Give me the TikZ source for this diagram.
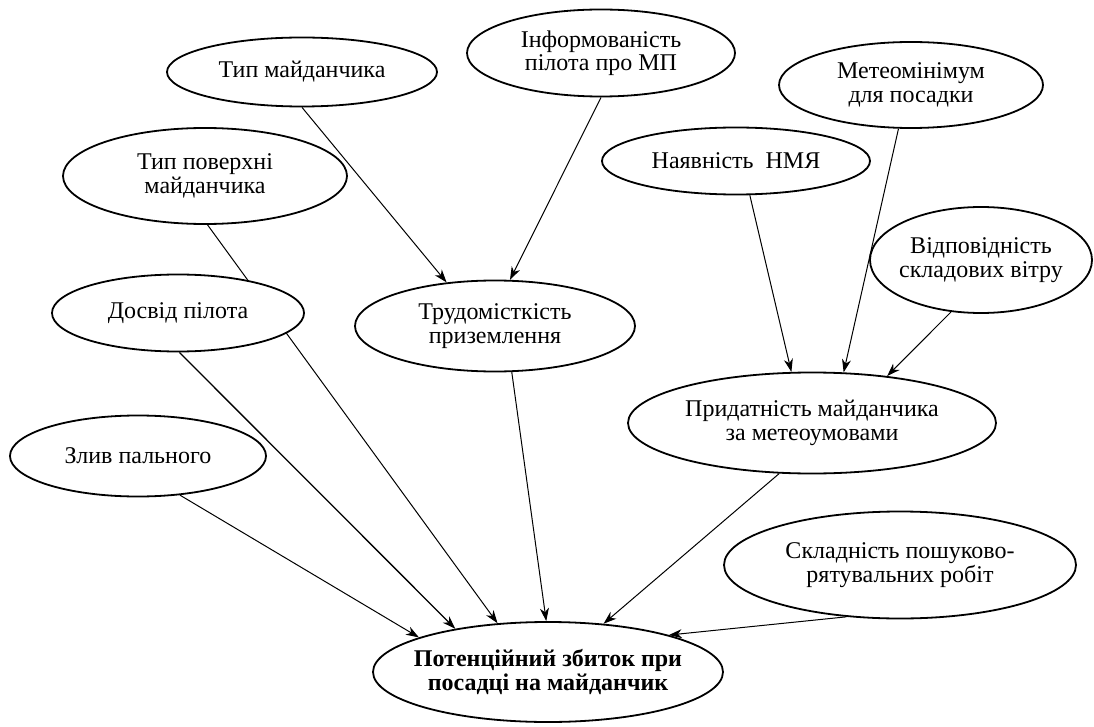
\documentclass[tikz,border=0pt]{standalone}
\usepackage{fontspec}
\setmainfont{Liberation Serif}
\usetikzlibrary{shapes.geometric,arrows.meta}
\pgfdeclarelayer{bg}
\pgfsetlayers{bg,main}
\begin{document}
\begin{tikzpicture}[x=1pt,y=-1pt,
  ell/.style={ellipse,draw,line width=1.8pt,fill=white,inner ysep=0pt,inner xsep=-8pt,align=center,
    font=\fontsize{24}{23.5}\selectfont},
  conn/.style={line width=1pt,-{Stealth[length=13pt,width=9pt,inset=4pt]}}]
\useasboundingbox (0,0) rectangle (1094,727);

\node[ell,minimum width=270pt,minimum height=69pt] (A) at (302,72) {Тип майданчика};
\node[ell,minimum width=268pt,minimum height=87pt] (B) at (601,53) {Інформованість\\пілота про МП};
\node[ell,minimum width=264pt,minimum height=86pt] (C) at (911,85) {Метеомінімум\\для посадки};
\node[ell,minimum width=284pt,minimum height=96pt] (D) at (205,176) {Тип поверхні\\майданчика};
\node[ell,minimum width=268pt,minimum height=67pt] (E) at (736,161) {Наявність\ \ НМЯ};
\node[ell,minimum width=222pt,minimum height=106pt] (F) at (981,260) {Відповідність\\складових вітру};
\node[ell,minimum width=252pt,minimum height=77pt] (G) at (178,313) {Досвід пілота};
\node[ell,minimum width=280pt,minimum height=91pt] (H) at (495,326) {Трудомісткість\\приземлення};
\node[ell,minimum width=368pt,minimum height=101pt] (I) at (812,423) {Придатність майданчика\\за метеоумовами};
\node[ell,minimum width=256pt,minimum height=81pt] (J) at (138,456) {Злив пального};
\node[ell,minimum width=352pt,minimum height=107pt] (K) at (900,565) {Складність пошуково-\\рятувальних робіт};
\node[ell,minimum width=350pt,minimum height=100pt,inner xsep=-16pt,font=\fontsize{24}{23.5}\selectfont\bfseries] (L) at (548,672) {Потенційний збиток при\\посадці на майданчик};

\begin{pgfonlayer}{bg}
\draw[conn] (A.south) -- (H.138);
\draw[conn] (B.south) -- (H.72);
\draw[conn] (D.-87) -- (L.136.7);
\draw[conn,line width=1.3pt] (G.-88) -- (L.155);
\draw[conn] (J.-43) -- (L.165);
\draw[conn] (H.-70) -- (L.92);
\draw[conn] (I.-123.7) -- (L.41);
\draw[conn] (K.-136) -- (L.17.8);
\draw[conn] (E.-68.2) -- (I.112.2);
\draw[conn] (C.-106.8) -- (I.58.6);
\draw[conn] (F.-120) -- (I.32);
\end{pgfonlayer}
\end{tikzpicture}
\end{document}
